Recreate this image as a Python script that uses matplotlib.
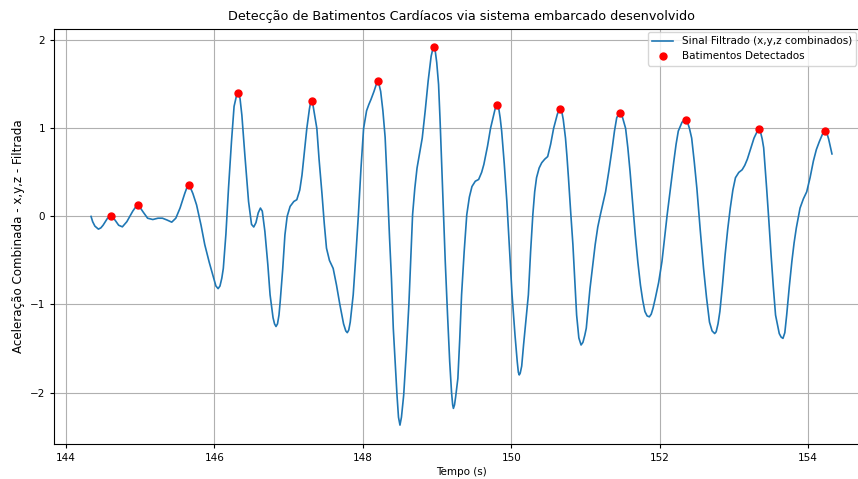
import matplotlib
matplotlib.use("Agg")
import matplotlib.pyplot as plt

# Filtered combined acceleration signal (time in s, value)
tempo = [
    144.338, 144.36, 144.39, 144.437, 144.47, 144.50, 144.56, 144.607, 144.66, 144.71,
    144.76, 144.82, 144.90, 144.95, 144.97, 145.00, 145.04, 145.10, 145.17, 145.24,
    145.30, 145.36, 145.425, 145.48, 145.537, 145.60, 145.635, 145.654, 145.675, 145.71,
    145.76, 145.82, 145.87, 145.93, 145.99, 146.02, 146.05, 146.075, 146.10, 146.12,
    146.155, 146.19, 146.23, 146.265, 146.30, 146.324, 146.345, 146.37, 146.41, 146.46,
    146.50, 146.53, 146.56, 146.59, 146.62, 146.645, 146.68, 146.72, 146.75, 146.79,
    146.81, 146.83, 146.85, 146.87, 146.886, 146.92, 146.95, 146.98, 147.02, 147.07,
    147.11, 147.15, 147.18, 147.215, 147.245, 147.28, 147.295, 147.31, 147.325, 147.345,
    147.38, 147.41, 147.45, 147.48, 147.51, 147.55, 147.60, 147.645, 147.69, 147.74,
    147.77, 147.79, 147.81, 147.83, 147.87, 147.905, 147.94, 147.975, 148.01, 148.05,
    148.08, 148.11, 148.15, 148.185, 148.20, 148.215, 148.24, 148.27, 148.30, 148.33,
    148.36, 148.385, 148.41, 148.46, 148.48, 148.50, 148.52, 148.55, 148.585, 148.62,
    148.645, 148.67, 148.70, 148.73, 148.80, 148.84, 148.88, 148.92, 148.945, 148.96,
    148.975, 148.995, 149.02, 149.04, 149.06, 149.085, 149.11, 149.14, 149.17, 149.195,
    149.21, 149.22, 149.235, 149.25, 149.28, 149.305, 149.33, 149.365, 149.40, 149.435,
    149.47, 149.515, 149.56, 149.60, 149.63, 149.68, 149.72, 149.77, 149.79, 149.81,
    149.83, 149.85, 149.87, 149.905, 149.94, 149.975, 150.01, 150.05, 150.08, 150.095,
    150.107, 150.12, 150.14, 150.165, 150.20, 150.23, 150.26, 150.29, 150.315, 150.34,
    150.375, 150.41, 150.45, 150.49, 150.53, 150.57, 150.62, 150.645, 150.66, 150.68,
    150.70, 150.73, 150.75, 150.77, 150.80, 150.83, 150.855, 150.88, 150.91, 150.94,
    150.965, 150.99, 151.01, 151.035, 151.06, 151.095, 151.13, 151.165, 151.20, 151.235,
    151.27, 151.315, 151.36, 151.39, 151.42, 151.445, 151.47, 151.50, 151.54, 151.57,
    151.60, 151.635, 151.67, 151.705, 151.74, 151.77, 151.80, 151.83, 151.86, 151.885,
    151.91, 151.94, 151.985, 152.03, 152.065, 152.10, 152.145, 152.19, 152.22, 152.25,
    152.30, 152.325, 152.35, 152.37, 152.40, 152.43, 152.465, 152.50, 152.545, 152.59,
    152.63, 152.67, 152.705, 152.74, 152.76, 152.785, 152.81, 152.845, 152.88, 152.915,
    152.95, 152.985, 153.02, 153.065, 153.11, 153.145, 153.18, 153.225, 153.27, 153.31,
    153.34, 153.36, 153.38, 153.40, 153.44, 153.47, 153.50, 153.53, 153.56, 153.61,
    153.635, 153.66, 153.685, 153.71, 153.745, 153.78, 153.81, 153.84, 153.89, 153.935,
    153.98, 154.025, 154.07, 154.11, 154.15, 154.19, 154.21, 154.23, 154.25, 154.275,
    154.32,
]
sinal = [
    0.00, -0.06, -0.11, -0.144, -0.13, -0.10, -0.02, 0.00, -0.04, -0.10,
    -0.118, -0.06, 0.06, 0.12, 0.13, 0.10, 0.05, -0.02, -0.035, -0.02,
    -0.02, -0.04, -0.065, -0.02, 0.095, 0.26, 0.34, 0.36, 0.33, 0.26,
    0.13, -0.10, -0.32, -0.52, -0.70, -0.79, -0.82, -0.79, -0.70, -0.59,
    -0.20, 0.32, 0.85, 1.25, 1.38, 1.40, 1.34, 1.15, 0.70, 0.17,
    -0.09, -0.12, -0.07, 0.04, 0.095, 0.06, -0.17, -0.55, -0.89, -1.15,
    -1.22, -1.25, -1.22, -1.12, -0.97, -0.60, -0.21, 0.00, 0.114, 0.17,
    0.19, 0.30, 0.47, 0.75, 1.00, 1.22, 1.29, 1.31, 1.28, 1.18,
    1.00, 0.65, 0.25, -0.08, -0.36, -0.50, -0.59, -0.78, -1.00, -1.22,
    -1.30, -1.32, -1.29, -1.20, -0.89, -0.45, 0.02, 0.55, 1.00, 1.20,
    1.27, 1.33, 1.42, 1.51, 1.54, 1.51, 1.42, 1.20, 0.90, 0.35,
    -0.25, -0.70, -1.27, -2.03, -2.28, -2.37, -2.28, -2.03, -1.55, -1.00,
    -0.50, 0.02, 0.32, 0.55, 0.89, 1.20, 1.54, 1.82, 1.91, 1.92,
    1.88, 1.75, 1.50, 1.10, 0.63, 0.05, -0.51, -1.10, -1.65, -2.00,
    -2.14, -2.18, -2.14, -2.05, -1.84, -1.40, -0.89, -0.40, 0.02, 0.22,
    0.34, 0.40, 0.42, 0.50, 0.59, 0.80, 1.00, 1.18, 1.25, 1.27,
    1.23, 1.12, 0.97, 0.60, 0.17, -0.35, -0.89, -1.35, -1.65, -1.77,
    -1.80, -1.78, -1.70, -1.46, -1.15, -0.89, -0.40, 0.02, 0.28, 0.44,
    0.55, 0.61, 0.65, 0.68, 0.82, 1.00, 1.16, 1.21, 1.22, 1.19,
    1.10, 0.89, 0.68, 0.44, 0.05, -0.32, -0.72, -1.12, -1.38, -1.46,
    -1.43, -1.35, -1.27, -1.05, -0.82, -0.57, -0.32, -0.12, 0.02, 0.15,
    0.28, 0.52, 0.78, 0.97, 1.12, 1.16, 1.17, 1.12, 1.00, 0.78,
    0.51, 0.15, -0.21, -0.52, -0.78, -0.95, -1.08, -1.13, -1.14, -1.11,
    -1.04, -0.93, -0.75, -0.51, -0.25, 0.02, 0.33, 0.63, 0.82, 0.97,
    1.07, 1.09, 1.10, 1.08, 1.00, 0.89, 0.62, 0.32, -0.15, -0.59,
    -0.92, -1.20, -1.30, -1.33, -1.31, -1.22, -1.08, -0.78, -0.44, -0.15,
    0.095, 0.30, 0.44, 0.50, 0.53, 0.58, 0.65, 0.77, 0.89, 0.96,
    0.99, 0.95, 0.88, 0.78, 0.32, -0.05, -0.44, -0.80, -1.12, -1.33,
    -1.37, -1.385, -1.32, -1.12, -0.80, -0.51, -0.30, -0.13, 0.095, 0.20,
    0.28, 0.44, 0.63, 0.76, 0.85, 0.93, 0.96, 0.97, 0.95, 0.88,
    0.71,
]

# Detected beats
picos_tempo = [144.607, 144.97, 145.654, 146.324, 147.31, 148.20, 148.96,
               149.81, 150.66, 151.47, 152.35, 153.34, 154.23]
picos_valor = [0.00, 0.13, 0.36, 1.40, 1.31, 1.54, 1.92,
               1.27, 1.22, 1.17, 1.10, 0.99, 0.97]

xticks = [144, 146, 148, 150, 152, 154]
yticks = [-2, -1, 0, 1, 2]

plt.rcParams['font.family'] = ['DejaVu Sans']

fig = plt.figure(figsize=(8.58, 4.79), dpi=100)
ax = fig.add_axes([54 / 858, 35 / 479, 815 / 858, 415.5 / 479])

ax.plot(tempo, sinal, color='#1f77b4', linewidth=1.2,
        label='Sinal Filtrado (x,y,z combinados)')
ax.plot(picos_tempo, picos_valor, 'o', color='red', markersize=5,
        label='Batimentos Detectados')

ax.set_xticks(xticks)
ax.set_yticks(yticks)
ax.tick_params(labelsize=7.5, length=3)
ax.grid(True, color='#b0b0b0', linewidth=0.8)

ax.set_title('Detecção de Batimentos Cardíacos via sistema embarcado desenvolvido',
             fontsize=9.2, pad=6)
ax.set_xlabel('Tempo (s)', fontsize=7.5, labelpad=3)
ax.set_ylabel('Aceleração Combinada - x,y,z - Filtrada', fontsize=8.6, labelpad=3)

ax.legend(loc='upper right', fontsize=7.5, borderaxespad=0,
          bbox_to_anchor=(856 / 858, 1 - 32 / 479), bbox_transform=fig.transFigure)

fig.savefig('out.png', dpi=100)
